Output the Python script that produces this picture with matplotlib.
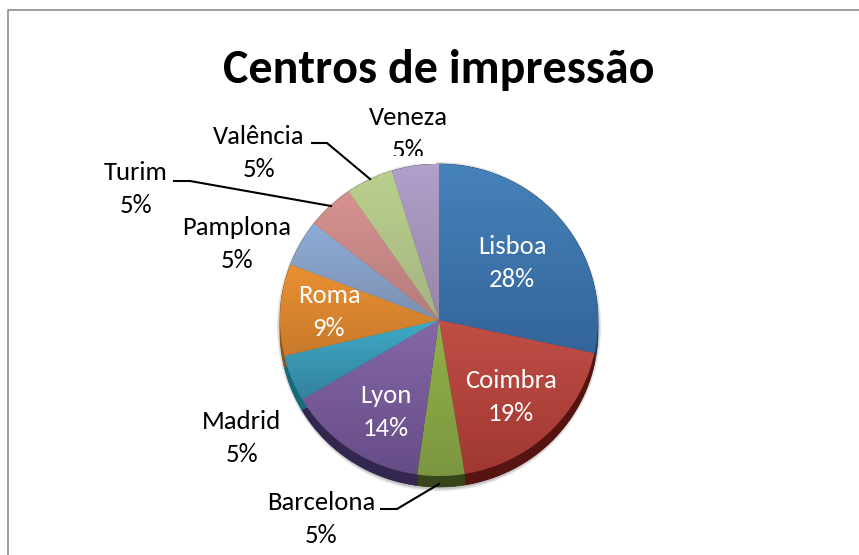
import numpy as np
import matplotlib
matplotlib.use('Agg')
import matplotlib.pyplot as plt
from matplotlib.patches import Rectangle, Polygon, Ellipse

# pie data, clockwise from 12 o'clock
cities = ['Lisboa', 'Coimbra', 'Barcelona', 'Lyon', 'Madrid', 'Roma', 'Pamplona', 'Turim', 'Valência', 'Veneza']
shares = [28.4, 19, 4.8, 14.3, 4.8, 9.5, 4.8, 4.8, 4.8, 4.8]
labels_pct = ['28%', '19%', '5%', '14%', '5%', '9%', '5%', '5%', '5%', '5%']

# wedge colours, top and bottom of the gradient, and the dark side of the 3d rim
colors_top = ['#4682ba', '#c04e46', '#92b048', '#8468a8', '#3fabc6', '#ea9032', '#8facd8', '#d89290', '#bad08c', '#b0a0ca']
colors_bot = ['#33659a', '#a03832', '#7c9640', '#664c86', '#33829f', '#c87a2c', '#7c90b0', '#b47c7c', '#a4b482', '#9686aa']
colors_side = ['#1f3f66', '#561410', '#36451a', '#33264f', '#176a7a', '#8a5418', '#5a6c88', '#8a5a58', '#76864e', '#6a5a84']

plt.rcParams['font.family'] = ['Carlito', 'Open Sans', 'DejaVu Sans']


def grad(c1, c2):
    c1 = np.array(matplotlib.colors.to_rgb(c1))
    c2 = np.array(matplotlib.colors.to_rgb(c2))
    f = np.linspace(0, 1, 128)[:, None]
    return (c1 * (1 - f) + c2 * f)[:, None, :]


fig = plt.figure(figsize=(8.59, 5.55), dpi=100)
ax = fig.add_axes([0, 0, 1, 1])

# 3d pie geometry in pixels
cx, cy = 439, 320
rx, ry = 159, 156
depth = 11

# soft shadow around the pie
ax.add_patch(Ellipse((cx, cy + depth / 2 + 1), 2 * rx + 6, 2 * ry + depth + 6, color='#b0b0b0', alpha=0.35, lw=0, zorder=1))
ax.add_patch(Ellipse((cx, cy + depth / 2 + 1), 2 * rx + 3, 2 * ry + depth + 3, color='#909090', alpha=0.35, lw=0, zorder=1))

# side of the pie first, then the gradient faces
angle = 0
for val, top, bot, side in zip(shares, colors_top, colors_bot, colors_side):
    a2 = angle + val * 3.6
    th = np.radians(np.linspace(angle, a2, 60))
    xs = np.r_[cx, cx + rx * np.sin(th)]
    ys = np.r_[cy, cy - ry * np.cos(th)]
    ax.fill(xs, ys + depth, color=side, lw=0, zorder=2)
    ax.fill(np.r_[xs[1:], xs[1:][::-1]], np.r_[ys[1:], ys[1:][::-1] + depth], color=side, lw=0.5, zorder=2)
    face = Polygon(np.c_[xs, ys], closed=True, transform=ax.transData, facecolor='none', edgecolor='none')
    ax.add_patch(face)
    im = ax.imshow(grad(top, bot), extent=[xs.min(), xs.max(), ys.max(), ys.min()], aspect='auto', zorder=3)
    im.set_clip_path(face)
    angle = a2

# chart frame: only left and top are visible in the crop
ax.plot([8, 8, 859], [555, 9.5, 9.5], color='#8c8c8c', lw=1.2)

ax.set_xlim(0, 859)
ax.set_ylim(555, 0)
ax.axis('off')

ax.text(439, 70, 'Centros de impressão', ha='center', va='center', fontsize=34.5, fontweight='bold', color='black')

inside = {'Lisboa': (512, 263), 'Coimbra': (511, 397), 'Lyon': (386, 412), 'Roma': (329, 312)}
outside = {'Barcelona': (321, 519), 'Madrid': (242, 438), 'Pamplona': (237, 244), 'Turim': (136, 189), 'Valência': (259, 153), 'Veneza': (408, 134)}
for name, pct in zip(cities, labels_pct):
    if name in inside:
        x, y = inside[name]
        c = 'white'
    else:
        x, y = outside[name]
        c = 'black'
    ax.text(x, y, name + '\n' + pct, ha='center', va='center', fontsize=19.2, color=c, linespacing=1.55, zorder=6)

# white strip clipping the Veneza label at the pie top
ax.add_patch(Rectangle((380, 156), 56, 8, color='white', lw=0, zorder=7))

# leader lines
ax.plot([174, 190, 331], [181, 181, 206], color='black', lw=1.5, zorder=5)
ax.plot([312, 327, 370], [143, 143, 179], color='black', lw=1.5, zorder=5)
ax.plot([381, 397, 439], [509, 509, 484], color='black', lw=1.5, zorder=5)

fig.savefig('out.png', dpi=100)
